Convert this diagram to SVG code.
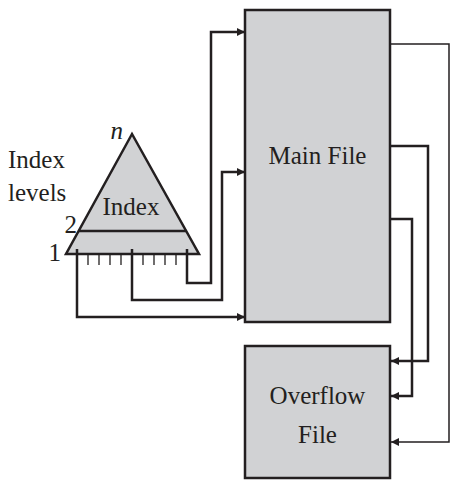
<svg xmlns="http://www.w3.org/2000/svg" width="451" height="481" viewBox="0 0 451 481">
<style>
.box{fill:#d1d2d4;stroke:#231f20;stroke-width:2.5}
.c{fill:none;stroke:#231f20;stroke-width:2.5}
.thin{fill:none;stroke:#231f20;stroke-width:1.5}
.tick{stroke:#231f20;stroke-width:1.3}
text{font-family:"Liberation Serif","Times New Roman",serif;font-size:25px;fill:#231f20}
</style>
<defs>
<marker id="ah" viewBox="0 0 10 10" refX="10" refY="5" markerWidth="9" markerHeight="8" markerUnits="userSpaceOnUse" orient="auto">
<path d="M0,0 L10,5 L0,10 z" fill="#231f20"/>
</marker>
</defs>
<g id="index-levels-label">
<text x="8" y="168">Index</text>
<text x="8" y="201">levels</text>
</g>
<g id="index">
<polygon class="box" points="132,134 66,254 199,254"/>
<line class="c" x1="78.6" y1="231" x2="186.2" y2="231"/>
<g class="tick">
<line x1="88" y1="254" x2="88" y2="265"/><line x1="99" y1="254" x2="99" y2="265"/><line x1="110" y1="254" x2="110" y2="265"/><line x1="121" y1="254" x2="121" y2="265"/>
<line x1="143" y1="254" x2="143" y2="265"/><line x1="154" y1="254" x2="154" y2="265"/><line x1="165" y1="254" x2="165" y2="265"/><line x1="176" y1="254" x2="176" y2="265"/>
</g>
<text x="131" y="215" text-anchor="middle">Index</text>
<text x="123" y="139" text-anchor="end" font-style="italic">n</text>
<text x="77" y="233" text-anchor="end">2</text>
<text x="61" y="261" text-anchor="end">1</text>
</g>
<g id="main-file">
<rect class="box" x="245" y="10" width="145" height="312"/>
<text x="317.5" y="164" text-anchor="middle">Main File</text>
</g>
<g id="overflow-file">
<rect class="box" x="245" y="346" width="145" height="132"/>
<text x="317.5" y="404" text-anchor="middle">Overflow</text>
<text x="317.5" y="443" text-anchor="middle">File</text>
</g>
<g id="connectors">
<polyline class="c" points="187,249 187,283 211,283 211,32 245,32" marker-end="url(#ah)"/>
<polyline class="c" points="132,249 132,300 222,300 222,172 245,172" marker-end="url(#ah)"/>
<polyline class="c" points="77,249 77,317 245,317" marker-end="url(#ah)"/>
<polyline class="thin" points="390,44 449,44 449,442 391,442" marker-end="url(#ah)"/>
<polyline class="c" points="390,146 428,146 428,361 391,361" marker-end="url(#ah)"/>
<polyline class="c" points="390,219 412,219 412,396 391,396" marker-end="url(#ah)"/>
</g>
</svg>
